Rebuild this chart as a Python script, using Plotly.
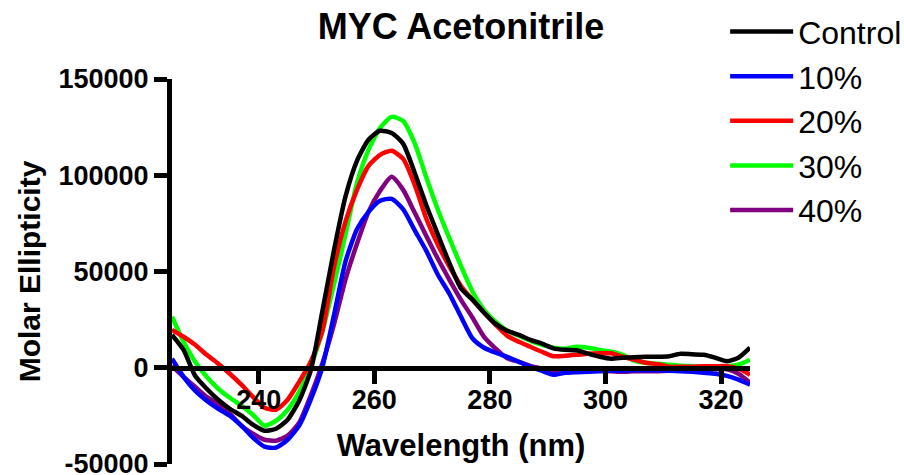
import plotly.graph_objects as go

# Wavelength grid (nm)
wavelength = list(range(225, 326, 2))

# Molar ellipticity for each acetonitrile condition
control = [17100, 9300, -4200, -10900, -16600, -21300, -24900, -29600, -32700, -31700,
           -27000, -17100, -1500, 29100, 60700, 88800, 107500, 118400, 123100, 122000,
           116300, 101200, 84400, 69200, 54300, 41200, 35300, 28600, 22800, 19200,
           17100, 14500, 12500, 10100, 9300, 9100, 7300, 5700, 4700, 5200,
           5500, 5700, 5700, 6000, 7300, 7000, 6700, 5200, 3400, 5200, 10400]

acn_10 = [4700, -4700, -11900, -17100, -21300, -24900, -30100, -36300, -41000, -41500,
          -37400, -30100, -16600, 200, 27000, 55000, 72000, 81000, 86800, 87700,
          82300, 71400, 60700, 48300, 38400, 26500, 15200, 10400, 7800, 5700,
          3100, 500, -1600, -3600, -2600, -2300, -2100, -1800, -1600, -1600,
          -1300, -1300, -1300, -1600, -1800, -2100, -2600, -3100, -4200, -6200, -8800]

acn_20 = [19700, 16100, 11900, 6700, 2100, -3100, -8800, -15100, -20800, -21800,
          -16600, -7300, 3100, 19000, 51900, 75800, 92400, 104900, 110600, 112700,
          108500, 95000, 77400, 63900, 52500, 42500, 35300, 28600, 22300, 16600,
          13500, 10900, 8300, 6000, 6200, 6700, 7300, 7500, 7500, 5700,
          4200, 2600, 1800, 500, 500, 500, 800, 800, 800, -500, -3600]

acn_30 = [26500, 13500, 3100, -4700, -10900, -15600, -19700, -24400, -30100, -27500,
          -21800, -12500, 1000, 18700, 43100, 69100, 95900, 113200, 124600, 130300,
          128200, 116500, 98800, 82100, 67200, 52800, 39500, 30100, 23900, 19200,
          16600, 14000, 11900, 10400, 9900, 10900, 10400, 9300, 8300, 6700,
          3600, 2600, 2100, 1600, 1000, 800, 500, 500, 800, 1600, 4200]

acn_40 = [1000, -4700, -9900, -15100, -18700, -23900, -30100, -34300, -37400, -37900,
          -35300, -28600, -14500, 2100, 22300, 45700, 64400, 81000, 91900, 99200,
          92400, 80500, 68500, 56600, 45700, 35300, 26000, 16000, 9900, 4900,
          3100, 1000, -500, -2100, -2100, -1800, -1600, -1600, -1800, -2100,
          -1800, -1800, -1800, -1600, -1600, -1300, -1000, -800, -800, -3100, -7800]

series_names = ["Control", "10%", "20%", "30%", "40%"]
series_values = [control, acn_10, acn_20, acn_30, acn_40]
series_colors = ["#000000", "#0000FF", "#FF0000", "#00FF00", "#800080"]

x_ticks = [240, 260, 280, 300, 320]
y_ticks = [-50000, 0, 50000, 100000, 150000]
y_tick_text = ["-50000", "0", "50000", "100000", "150000"]

FONT = "Liberation Sans, Arial, sans-serif"

fig = go.Figure()

# Later conditions are drawn first so Control sits on top
for rank in reversed(range(len(series_names))):
    fig.add_trace(go.Scatter(
        x=wavelength,
        y=series_values[rank],
        name=series_names[rank],
        mode="lines",
        line=dict(color=series_colors[rank], width=4.5, shape="spline", smoothing=0.6),
        legendrank=rank + 1,
    ))

fig.update_layout(
    width=904,
    height=475,
    margin=dict(l=172, r=154, t=79, b=11, autoexpand=False),
    paper_bgcolor="white",
    plot_bgcolor="white",
    showlegend=True,
    title=dict(
        text="MYC Acetonitrile",
        x=0.5, xref="paper", xanchor="center",
        y=1 - 26 / 475, yref="container", yanchor="middle",
        font=dict(family=FONT, size=36, color="black", weight="bold"),
    ),
    legend=dict(
        x=0.957, xanchor="left",
        y=1.194, yanchor="top",
        font=dict(family=FONT, size=32, color="black"),
        bgcolor="rgba(0,0,0,0)",
        itemwidth=63,
        tracegroupgap=0,
    ),
    xaxis=dict(
        range=[225, 325],
        anchor="free",
        position=0.25,
        showline=True, linewidth=5, linecolor="black",
        ticks="outside", ticklen=13, tickwidth=5, tickcolor="black",
        tickvals=x_ticks,
        ticklabelstandoff=-7,
        tickfont=dict(family=FONT, size=27, color="black", weight="bold"),
        showgrid=False, zeroline=False,
        automargin=False,
        title=dict(
            text="Wavelength (nm)",
            font=dict(family=FONT, size=31, color="black", weight="bold"),
            standoff=20,
        ),
    ),
    yaxis=dict(
        range=[-50000, 150000],
        showline=True, linewidth=5, linecolor="black",
        ticks="outside", ticklen=13, tickwidth=5, tickcolor="black",
        tickvals=y_ticks, ticktext=y_tick_text,
        ticklabeloverflow="allow",
        tickfont=dict(family=FONT, size=27, color="black", weight="bold"),
        showgrid=False, zeroline=False,
        automargin=False,
        title=dict(
            text="Molar Ellipticity",
            font=dict(family=FONT, size=30, color="black", weight="bold"),
            standoff=10,
        ),
    ),
)

fig.write_html("out.html")
